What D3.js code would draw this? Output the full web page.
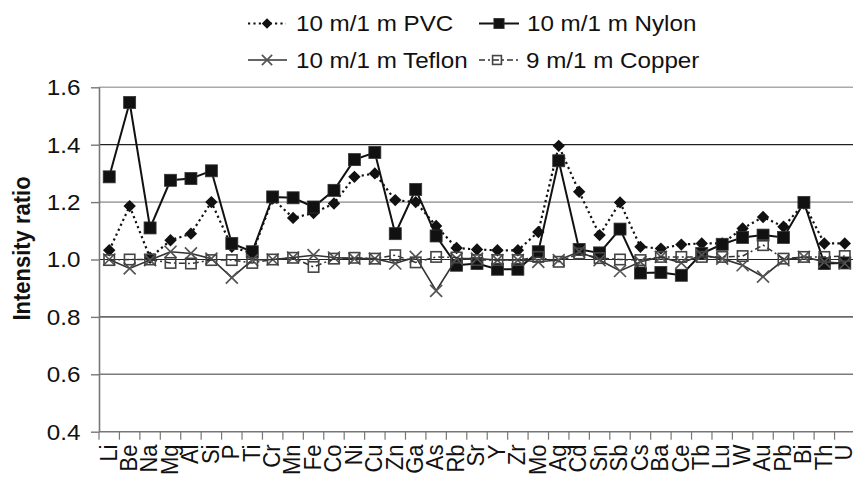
<!DOCTYPE html>
<html>
<head>
<meta charset="utf-8">
<script src="https://cdn.jsdelivr.net/npm/d3@7"></script>
<style>
  html, body { margin: 0; padding: 0; background: #fff; }
  svg { display: block; font-family: "Liberation Sans", Arial, sans-serif; }
</style>
</head>
<body>
<svg id="chart" width="853" height="483"></svg>
<script>
// Elements measured
const elements = ["Li","Be","Na","Mg","Al","Si","P","Ti","Cr","Mn","Fe","Co","Ni","Cu","Zn","Ga","As","Rb","Sr","Y","Zr","Mo","Ag","Cd","Sn","Sb","Cs","Ba","Ce","Tb","Lu","W","Au","Pb","Bi","Th","U"];

// Intensity ratios per cable type
const pvc = [1.032,1.186,1.006,1.067,1.090,1.200,1.044,1.021,1.212,1.145,1.162,1.195,1.288,1.300,1.207,1.200,1.117,1.040,1.035,1.032,1.032,1.096,1.396,1.236,1.085,1.199,1.044,1.038,1.052,1.056,1.056,1.108,1.148,1.114,1.195,1.056,1.056];
const nylon = [1.288,1.547,1.110,1.276,1.282,1.309,1.056,1.027,1.218,1.215,1.183,1.241,1.348,1.373,1.090,1.244,1.082,0.980,0.986,0.966,0.966,1.027,1.344,1.035,1.023,1.106,0.953,0.955,0.945,1.021,1.053,1.077,1.085,1.077,1.199,0.986,0.988];
const teflon = [1.000,0.969,0.998,1.027,1.021,1.003,0.937,0.998,1.000,1.007,1.015,1.007,1.003,1.003,0.986,1.009,0.891,1.003,1.003,0.998,0.998,0.992,0.998,1.027,0.998,0.960,0.992,1.009,0.988,1.015,1.003,0.980,0.940,0.998,1.009,0.992,0.986];
const copper = [0.998,1.000,1.000,0.988,0.986,0.998,0.998,0.988,1.000,1.006,0.974,1.003,1.006,1.003,1.015,0.990,1.009,1.007,0.998,0.998,0.998,1.009,0.992,1.021,1.005,1.000,0.998,1.009,1.009,1.009,1.009,1.012,1.050,1.003,1.009,1.009,1.012];

const yTicks = [0.4, 0.6, 0.8, 1.0, 1.2, 1.4, 1.6];
const legendLabels = ["10 m/1 m PVC", "10 m/1 m Nylon", "10 m/1 m Teflon", "9 m/1 m Copper"];

const svg = d3.select("#chart");
const plotLeft = 99, plotRight = 855, plotTop = 87.3, plotBottom = 431.7;
const STRETCH = 1.1; // text is set slightly wide

const x = d3.scaleBand().domain(elements).range([plotLeft, plotRight]);
const y = d3.scaleLinear().domain([0.4, 1.6]).range([plotBottom, plotTop]);

// Places a text at (px, py), widened horizontally, optionally rotated
function addText(parent, px, py, str, opts = {}) {
  const g = parent.append("g")
    .attr("transform", `translate(${px},${py}) scale(${STRETCH},1) rotate(${opts.rotate || 0})`);
  return g.append("text")
    .attr("text-anchor", opts.anchor || "start")
    .attr("dy", opts.dy || "0")
    .attr("font-size", opts.size || 22)
    .attr("font-weight", opts.weight || "normal")
    .attr("fill", "#111")
    .text(str);
}

// Gridlines
const gridColor = {0.6: "#7a7a7a", 0.8: "#6a6a6a", 1.0: "#222", 1.2: "#aaa", 1.4: "#222", 1.6: "#aaa"};
svg.append("g").selectAll("line")
  .data(yTicks.filter(d => d > 0.4))
  .join("line")
  .attr("x1", plotLeft).attr("x2", plotRight)
  .attr("y1", d => y(d)).attr("y2", d => y(d))
  .attr("stroke", d => gridColor[d])
  .attr("stroke-width", d => (d === 1.0 || d === 1.4) ? 1.2 : 1.6);

// Y axis: line and ticks from d3, labels set wide
const yAxis = svg.append("g")
  .attr("transform", `translate(${plotLeft},0)`)
  .call(d3.axisLeft(y).tickValues(yTicks).tickSize(8).tickFormat(() => ""));
yAxis.select(".domain").attr("stroke", "#777").attr("stroke-width", 1.6).attr("d", `M0.5,${plotTop}V${plotBottom}`);
yAxis.selectAll(".tick line").attr("stroke", "#777").attr("stroke-width", 1.4);
const fmt = d3.format(".1f");
yTicks.forEach(v => addText(svg, 80.5, y(v), fmt(v), { anchor: "end", dy: "0.36em" }));

// X axis line with ticks at category boundaries
const xg = svg.append("g");
xg.append("line").attr("x1", plotLeft).attr("x2", plotRight).attr("y1", plotBottom).attr("y2", plotBottom)
  .attr("stroke", "#777").attr("stroke-width", 1.6);
xg.selectAll("line.tk")
  .data(d3.range(elements.length + 1))
  .join("line").attr("class", "tk")
  .attr("x1", i => plotLeft + i * x.step()).attr("x2", i => plotLeft + i * x.step())
  .attr("y1", plotBottom).attr("y2", plotBottom + 8)
  .attr("stroke", "#777").attr("stroke-width", 1.2);
elements.forEach(d => addText(xg, x(d) + x.bandwidth() / 2 + 7.3, 444.5, d, { anchor: "end", rotate: -90 }));

// Axis title
addText(svg, 30, 248.5, "Intensity ratio", { anchor: "middle", rotate: -90, weight: "bold" });

// Marker shapes
function diamond(g, r) {
  g.append("path").attr("d", `M0,${-r}L${r},0L0,${r}L${-r},0Z`).attr("fill", "#111");
}
function filledSquare(g, r) {
  g.append("rect").attr("x", -r).attr("y", -r).attr("width", 2 * r).attr("height", 2 * r)
    .attr("fill", "#111").attr("stroke", "#333").attr("stroke-width", 0.8);
}
function cross(g, r) {
  g.append("path").attr("d", `M${-r},${-r}L${r},${r}M${-r},${r}L${r},${-r}`)
    .attr("stroke", "#555").attr("stroke-width", 1.7).attr("fill", "none");
}
function openSquare(g, r) {
  g.append("rect").attr("x", -r).attr("y", -r).attr("width", 2 * r).attr("height", 2 * r)
    .attr("fill", "none").attr("stroke", "#444").attr("stroke-width", 1.6);
}

const cx = (d, i) => x(elements[i]) + x.bandwidth() / 2;
const series = [
  { name: legendLabels[0], values: pvc, stroke: "#111", width: 2.2, dash: "2.2,3.2", marker: diamond, r: 6.2 },
  { name: legendLabels[1], values: nylon, stroke: "#111", width: 2, dash: null, marker: filledSquare, r: 6 },
  { name: legendLabels[2], values: teflon, stroke: "#333", width: 1.6, dash: null, marker: cross, r: 6 },
  { name: legendLabels[3], values: copper, stroke: "#333", width: 1.5, dash: "6,3,2,3", marker: openSquare, r: 5.2 }
];

const line = d3.line().x(cx).y(d => y(d));
series.forEach(s => {
  const g = svg.append("g");
  g.append("path").datum(s.values)
    .attr("d", line)
    .attr("fill", "none")
    .attr("stroke", s.stroke)
    .attr("stroke-width", s.width)
    .attr("stroke-dasharray", s.dash);
  g.selectAll("g.m").data(s.values).join("g").attr("class", "m")
    .attr("transform", (d, i) => `translate(${cx(d, i)},${y(d)})`)
    .each(function () { s.marker(d3.select(this), s.r); });
});

// Legend
const legendPos = [
  { x0: 248, x1: 286, mx: 267, tx: 296, ty: 23.5 },
  { x0: 479, x1: 519, mx: 499, tx: 527, ty: 23.5 },
  { x0: 248, x1: 287, mx: 267, tx: 296, ty: 60 },
  { x0: 479, x1: 520, mx: 497, tx: 526, ty: 60 }
];
series.forEach((s, i) => {
  const p = legendPos[i];
  const g = svg.append("g");
  g.append("line").attr("x1", p.x0).attr("x2", p.x1).attr("y1", p.ty).attr("y2", p.ty)
    .attr("stroke", s.stroke).attr("stroke-width", s.width).attr("stroke-dasharray", s.dash);
  const m = g.append("g").attr("transform", `translate(${p.mx},${p.ty})`);
  s.marker(m, s.r * 0.85);
  addText(g, p.tx, p.ty, s.name, { dy: "0.36em" });
});
</script>
</body>
</html>
